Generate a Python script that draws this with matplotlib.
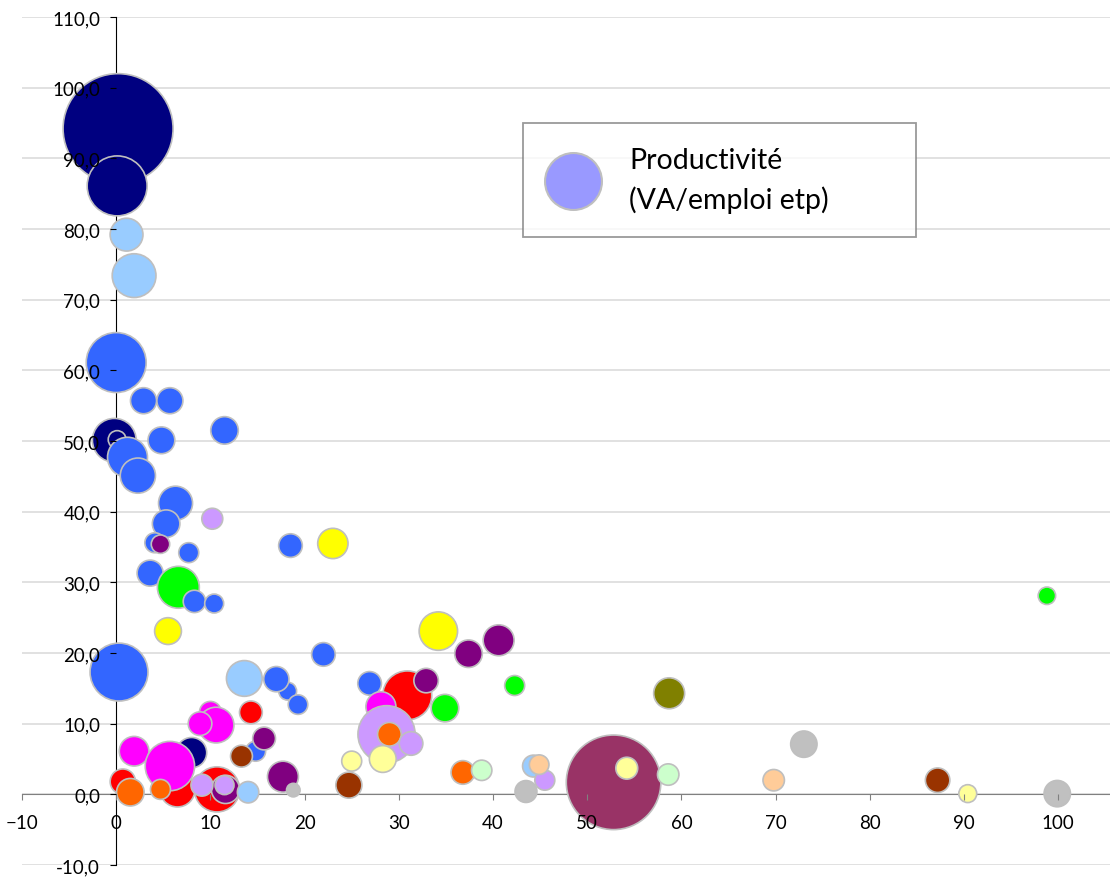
import numpy as np
import matplotlib
matplotlib.use('Agg')
import matplotlib.pyplot as plt
from matplotlib.lines import Line2D

plt.rcParams['font.family'] = ['Lato', 'DejaVu Sans']

# valeurs (x, y, taille de bulle), dans l'ordre de tracé
x = [0.2, 0.1, 1.1, 1.9, 0.0, 2.9, 5.7, -0.2, 0.1, 1.2, 2.3, 4.8, 11.5, 6.3, 5.3, 10.2,
     4.1, 4.7, 7.7, 18.5, 23.0, 3.6, 6.6, 8.3, 10.4, 5.5, 0.3, 13.6, 18.2, 17.0, 19.3, 22.0,
     14.3, 10.0, 10.6, 8.9, 8.0, 1.9, 6.5, 5.7, 0.7, 1.5, 4.7, 10.7, 11.6, 9.1, 11.5, 14.0,
     14.8, 13.3, 15.7, 17.7, 18.8, 24.7, 25.0, 26.9, 30.9, 28.1, 32.9, 34.9, 28.7, 29.0, 31.3, 28.3,
     34.2, 37.4, 40.6, 42.3, 58.7, 36.8, 38.8, 44.3, 45.5, 44.9, 43.5, 52.8, 54.2, 58.6,
     73.0, 69.8, 87.2, 90.4, 99.9, 98.8]
y = [94.2, 86.1, 79.2, 73.4, 61.1, 55.7, 55.7, 50.1, 50.2, 47.7, 45.1, 50.1, 51.5, 41.2, 38.3, 39.0,
     35.6, 35.4, 34.2, 35.2, 35.5, 31.3, 29.3, 27.3, 27.0, 23.1, 17.3, 16.4, 14.6, 16.3, 12.7, 19.8,
     11.6, 11.6, 9.8, 10.0, 5.9, 6.1, 0.7, 4.0, 1.8, 0.3, 0.7, 0.7, 0.7, 1.3, 1.3, 0.3,
     6.1, 5.4, 7.9, 2.5, 0.6, 1.3, 4.7, 15.7, 14.0, 12.4, 16.1, 12.2, 8.5, 8.5, 7.2, 5.0,
     23.1, 19.9, 21.8, 15.4, 14.3, 3.1, 3.4, 4.0, 2.0, 4.2, 0.4, 1.7, 3.7, 2.8,
     7.1, 2.0, 2.0, 0.1, 0.1, 28.1]
taille = [303, 90, 27, 48, 90, 17, 17, 48, 8, 40, 31, 18, 19, 29, 19, 11,
          10, 8.5, 10, 14, 23, 17, 44, 12.5, 9, 18, 84, 32, 8, 16, 9.6, 14,
          13, 12, 32, 14, 23, 22, 31, 61, 16, 19, 10, 51, 20, 12, 9, 11.5,
          10, 12, 13, 24, 4.6, 17, 10, 14, 60, 22.5, 15, 19, 82, 14, 14, 18,
          37, 19, 24, 10, 24, 14, 10.4, 12, 10, 9.6, 12, 224, 12, 11.5,
          17.4, 11.5, 15, 8, 17.4, 7.6]
secteur = ['marine', 'marine', 'ciel', 'ciel', 'bleu', 'bleu', 'bleu', 'marine', 'marine', 'bleu', 'bleu', 'bleu', 'bleu', 'bleu', 'bleu', 'lilas',
           'bleu', 'violet', 'bleu', 'bleu', 'jaune', 'bleu', 'vert', 'bleu', 'bleu', 'jaune', 'bleu', 'ciel', 'bleu', 'bleu', 'bleu', 'bleu',
           'rouge', 'magenta', 'magenta', 'magenta', 'marine', 'magenta', 'rouge', 'magenta', 'rouge', 'orange', 'orange', 'rouge', 'violet', 'lilas', 'lilas', 'ciel',
           'bleu', 'brun', 'violet', 'violet', 'gris', 'brun', 'jaune_pale', 'bleu', 'rouge', 'magenta', 'violet', 'vert', 'lilas', 'orange', 'lilas', 'jaune_pale',
           'jaune', 'violet', 'violet', 'vert', 'olive', 'orange', 'vert_pale', 'ciel', 'lilas', 'peche', 'gris', 'bordeaux', 'jaune_pale', 'vert_pale',
           'gris', 'peche', 'brun', 'jaune_pale', 'gris', 'vert']

palette = {'marine': '#000080', 'ciel': '#99CCFF', 'bleu': '#3366FF', 'lilas': '#CC99FF',
           'violet': '#800080', 'jaune': '#FFFF00', 'vert': '#00FF00', 'rouge': '#FF0000',
           'magenta': '#FF00FF', 'orange': '#FF6600', 'brun': '#993300', 'gris': '#C0C0C0',
           'jaune_pale': '#FFFF99', 'olive': '#808000', 'vert_pale': '#CCFFCC',
           'peche': '#FFCC99', 'bordeaux': '#993366'}

xticks = list(range(-10, 101, 10))
yticks = list(range(-10, 111, 10))

fig = plt.figure(figsize=(11.1, 8.78), dpi=100)
ax = fig.add_axes([22/1110, 12/878, 1088/1110, 848/878])

# gridlines behind the bubbles
for v in yticks:
    ax.axhline(v, color='#D9D9D9', lw=1.1, zorder=0)

couleurs = [palette[s] for s in secteur]
ax.scatter(x, y, s=np.array(taille) * 20.7, c=couleurs, edgecolors='#BFBFBF',
           linewidths=1.2, zorder=1)

ax.set_xlim(-10, 105.5)
ax.set_ylim(-10, 110)
ax.set_xticks(xticks)
ax.set_yticks(yticks)
ax.set_yticklabels([f"{v:.1f}".replace('.', ',') for v in yticks])

for side in ['top', 'right']:
    ax.spines[side].set_visible(False)
ax.spines['left'].set_position(('data', 0))
ax.spines['bottom'].set_position(('data', 0))
ax.spines['left'].set_color('black')
ax.spines['bottom'].set_color('#808080')
ax.spines['left'].set_zorder(0.5)
ax.spines['bottom'].set_zorder(0.5)
ax.xaxis.set_zorder(3)
ax.yaxis.set_zorder(3)

ax.tick_params(axis='x', direction='out', length=4.5, color='#808080', labelsize=13.5, pad=10)
ax.tick_params(axis='y', direction='out', length=4.5, color='black', labelsize=13.5, pad=7)

handle = Line2D([], [], marker='o', ls='', markersize=41, markerfacecolor='#9999FF',
                markeredgecolor='#BFBFBF', markeredgewidth=1.5)
leg = ax.legend([handle], ['Productivité\n(VA/emploi etp)'], loc='upper left',
                bbox_to_anchor=(523/1110, 1 - 237/878, 393/1110, 113/878),
                bbox_transform=fig.transFigure, mode='expand', fontsize=20.5,
                frameon=True, fancybox=False, borderpad=0.85, handlelength=1.82,
                handletextpad=1.05, borderaxespad=0)
txt = leg.get_texts()[0]
txt.set_linespacing(1.55)
txt.set_multialignment('left')
leg.get_frame().set_edgecolor('#808080')
leg.get_frame().set_linewidth(1.3)
leg.set_zorder(5)

fig.savefig('out.png', dpi=100)
